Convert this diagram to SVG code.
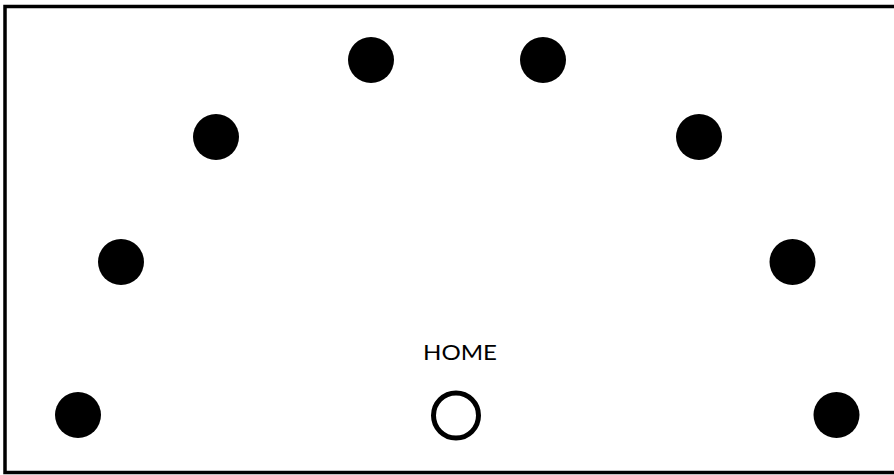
<svg xmlns="http://www.w3.org/2000/svg" width="894" height="475" viewBox="0 0 894 475">
<style>
.dot{fill:#000}
.home{fill:#fff;stroke:#000;stroke-width:5}
.lbl{font-family:Lato,"Liberation Sans","DejaVu Sans",sans-serif;font-size:21px;fill:#000}
</style>
<rect x="0" y="0" width="894" height="475" fill="#fff"/>
<rect x="5" y="6.5" width="892" height="466" fill="none" stroke="#000" stroke-width="3.5"/>
<g id="connectors"></g>
<g id="n1"><circle class="dot" cx="78" cy="415" r="23"/></g>
<g id="n2"><circle class="dot" cx="121" cy="262" r="23"/></g>
<g id="n3"><circle class="dot" cx="216" cy="137" r="23"/></g>
<g id="n4"><circle class="dot" cx="371" cy="60" r="23"/></g>
<g id="n5"><circle class="dot" cx="543" cy="60" r="23"/></g>
<g id="n6"><circle class="dot" cx="699" cy="137" r="23"/></g>
<g id="n7"><circle class="dot" cx="792.5" cy="262" r="23"/></g>
<g id="n8"><circle class="dot" cx="836.5" cy="415" r="23"/></g>
<g id="home"><circle class="home" cx="456" cy="415.5" r="22.5"/>
<text class="lbl" x="460" y="359.5" text-anchor="middle" textLength="74" lengthAdjust="spacingAndGlyphs">HOME</text></g>
</svg>
